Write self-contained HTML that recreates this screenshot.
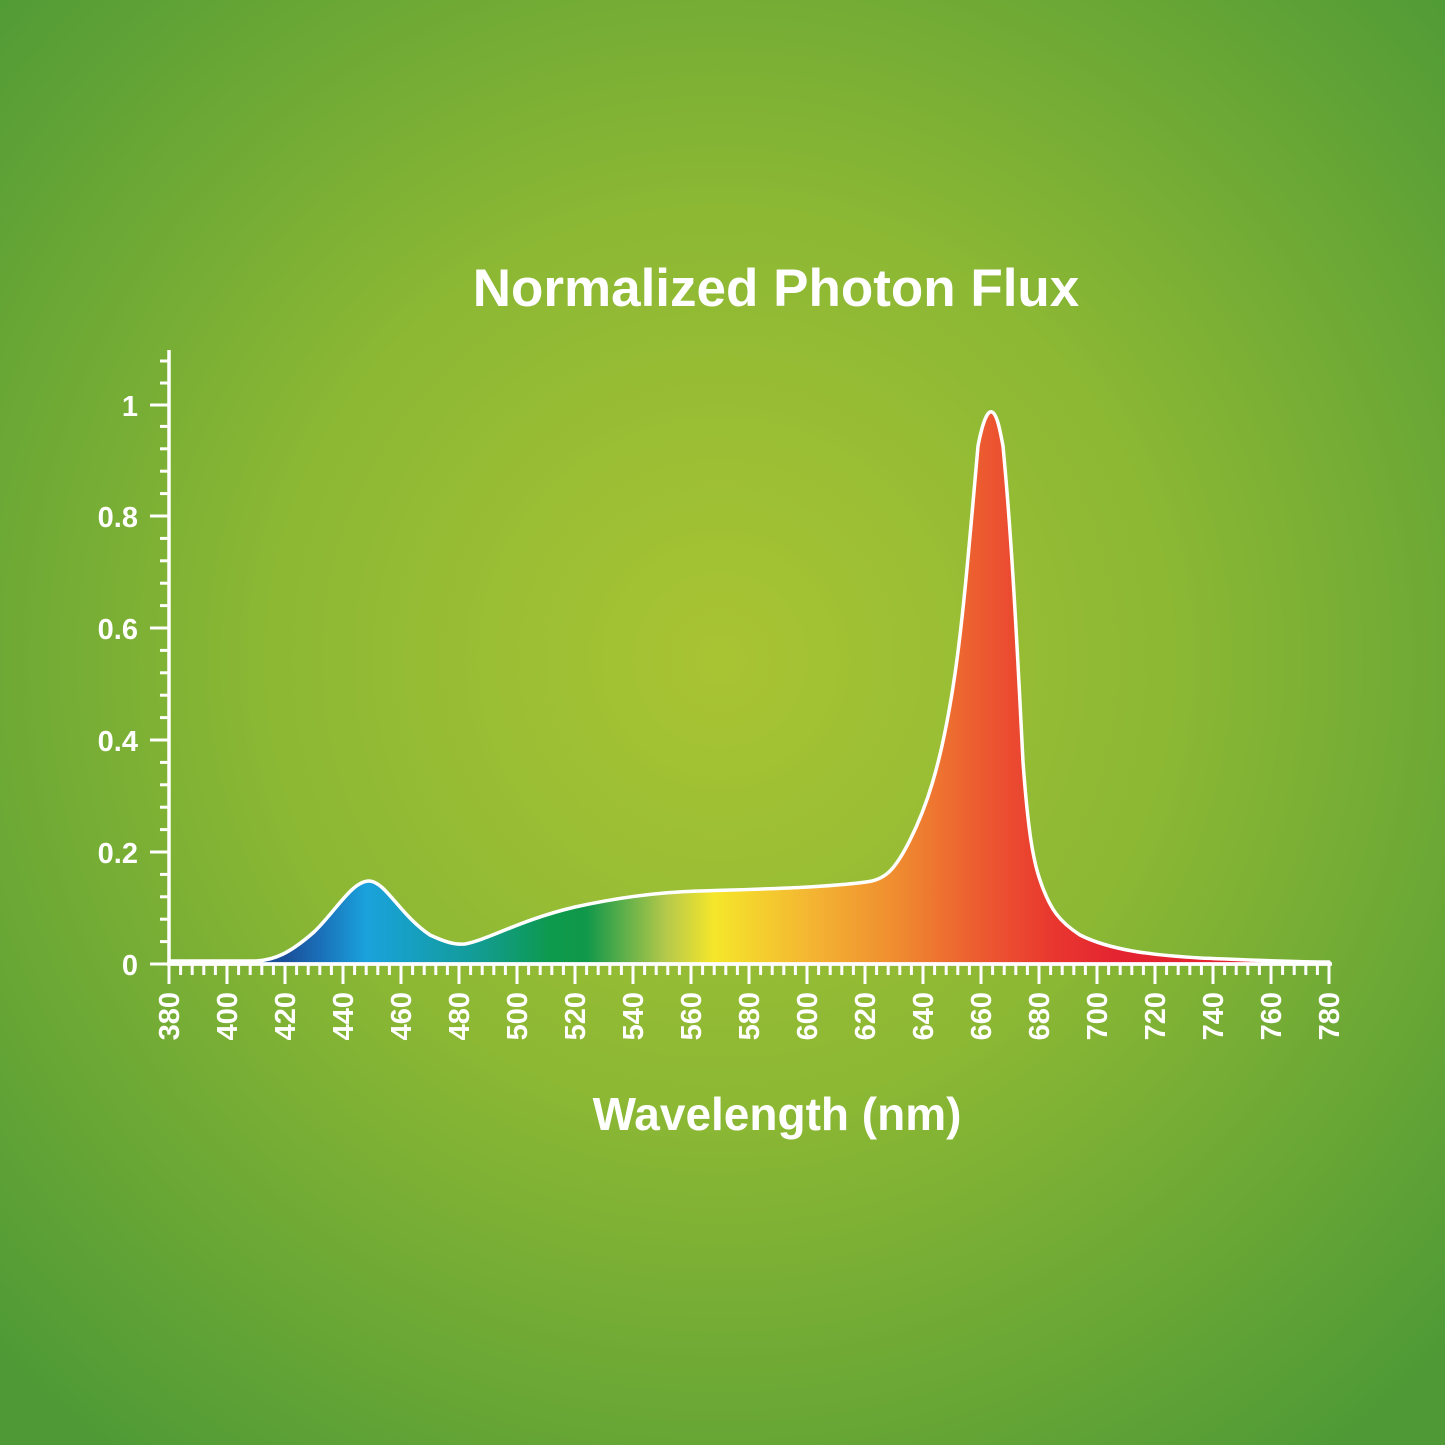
<!DOCTYPE html>
<html><head><meta charset="utf-8"><style>
html,body{margin:0;padding:0;}
body{width:1445px;height:1445px;overflow:hidden;}
</style></head><body>
<svg width="1445" height="1445" viewBox="0 0 1445 1445" xmlns="http://www.w3.org/2000/svg">
<defs>
<radialGradient id="bg" cx="720" cy="660" r="1000" gradientUnits="userSpaceOnUse">
<stop offset="0" stop-color="#a9c433"/>
<stop offset="0.45" stop-color="#8cb834"/>
<stop offset="1" stop-color="#4f9a36"/>
</radialGradient>
<linearGradient id="sp" x1="169" y1="0" x2="1329" y2="0" gradientUnits="userSpaceOnUse">
<stop offset="0.10" stop-color="#1a4f9a"/>
<stop offset="0.13" stop-color="#1a6fb8"/>
<stop offset="0.17" stop-color="#1aa2dc"/>
<stop offset="0.20" stop-color="#17a0c8"/>
<stop offset="0.26" stop-color="#139c9a"/>
<stop offset="0.33" stop-color="#0d9a4c"/>
<stop offset="0.36" stop-color="#11984a"/>
<stop offset="0.43" stop-color="#b8ca4a"/>
<stop offset="0.47" stop-color="#f5e62a"/>
<stop offset="0.55" stop-color="#f4b732"/>
<stop offset="0.63" stop-color="#ef8a30"/>
<stop offset="0.70" stop-color="#ec5a30"/>
<stop offset="0.76" stop-color="#e9382f"/>
<stop offset="0.82" stop-color="#e42331"/>
<stop offset="1" stop-color="#e42331"/>
</linearGradient>
</defs>
<rect width="1445" height="1445" fill="url(#bg)"/>
<text x="776" y="306" text-anchor="middle" font-family="Liberation Sans, sans-serif" font-size="53" font-weight="bold" fill="#fff">Normalized Photon Flux</text>
<text x="777" y="1130" text-anchor="middle" font-family="Liberation Sans, sans-serif" font-size="46" font-weight="bold" fill="#fff">Wavelength (nm)</text>

<path d="M169,961 L256,961 C275,960 290,953 314,932 C335,912 352,881 369,881 C385,881 400,915 430,935 C445,942 455,945 465,944 C490,939 520,920 575,907 C620,897 660,892 700,891 C760,889 820,888 866,882 C885,880 895,870 910,840 C925,810 940,770 953,687 C962,630 968,560 978,446 C983,420 988,410 992,412 C997,414 1000,430 1003,446 C1010,520 1015,600 1023,762 C1028,830 1033,860 1040,880 C1050,910 1060,922 1080,935 C1110,950 1150,955 1200,958 C1250,960 1290,962 1329,962 L1329,964 L169,964 Z" fill="url(#sp)" stroke="#fff" stroke-width="3.5" stroke-linejoin="round"/>

<g stroke="#fff" stroke-width="3.5" fill="none">
<line x1="169" y1="350" x2="169" y2="966"/>
<line x1="167" y1="964" x2="1332" y2="964"/>
</g>
<g stroke="#fff" stroke-width="3">
<line x1="150" y1="964" x2="169" y2="964"/><line x1="150" y1="852" x2="169" y2="852"/><line x1="150" y1="740" x2="169" y2="740"/><line x1="150" y1="628" x2="169" y2="628"/><line x1="150" y1="516" x2="169" y2="516"/><line x1="150" y1="405" x2="169" y2="405"/>
<line x1="160" y1="941.6" x2="169" y2="941.6"/><line x1="160" y1="919.2" x2="169" y2="919.2"/><line x1="160" y1="896.8" x2="169" y2="896.8"/><line x1="160" y1="874.4" x2="169" y2="874.4"/>
<line x1="160" y1="829.6" x2="169" y2="829.6"/><line x1="160" y1="807.2" x2="169" y2="807.2"/><line x1="160" y1="784.8" x2="169" y2="784.8"/><line x1="160" y1="762.4" x2="169" y2="762.4"/>
<line x1="160" y1="717.6" x2="169" y2="717.6"/><line x1="160" y1="695.2" x2="169" y2="695.2"/><line x1="160" y1="672.8" x2="169" y2="672.8"/><line x1="160" y1="650.4" x2="169" y2="650.4"/>
<line x1="160" y1="605.6" x2="169" y2="605.6"/><line x1="160" y1="583.2" x2="169" y2="583.2"/><line x1="160" y1="560.8" x2="169" y2="560.8"/><line x1="160" y1="538.4" x2="169" y2="538.4"/>
<line x1="160" y1="493.6" x2="169" y2="493.6"/><line x1="160" y1="471.2" x2="169" y2="471.2"/><line x1="160" y1="448.8" x2="169" y2="448.8"/><line x1="160" y1="426.4" x2="169" y2="426.4"/>
<line x1="160" y1="383" x2="169" y2="383"/><line x1="160" y1="361" x2="169" y2="361"/>
</g>
<g font-family="Liberation Sans, sans-serif" font-size="29" font-weight="bold" fill="#fff" text-anchor="end">
<text x="138" y="975">0</text><text x="138" y="863">0.2</text><text x="138" y="751">0.4</text><text x="138" y="639">0.6</text><text x="138" y="527">0.8</text><text x="138" y="416">1</text>
</g>
<g id="xt" stroke="#fff" stroke-width="3"></g>
<g id="xl" font-family="Liberation Sans, sans-serif" font-size="29" font-weight="bold" fill="#fff"></g>
<script>
var ns="http://www.w3.org/2000/svg",g=document.getElementById("xt"),l=document.getElementById("xl");
for(var i=0;i<=100;i++){var x=169+i*11.6;var ln=document.createElementNS(ns,"line");ln.setAttribute("x1",x);ln.setAttribute("x2",x);ln.setAttribute("y1",964);ln.setAttribute("y2",i%5==0?984:975);g.appendChild(ln);
if(i%5==0){var t=document.createElementNS(ns,"text");t.setAttribute("transform","translate("+(x+10)+",992) rotate(-90)");t.setAttribute("text-anchor","end");t.textContent=380+i*4;l.appendChild(t);}}
</script>
</svg>
</body></html>
